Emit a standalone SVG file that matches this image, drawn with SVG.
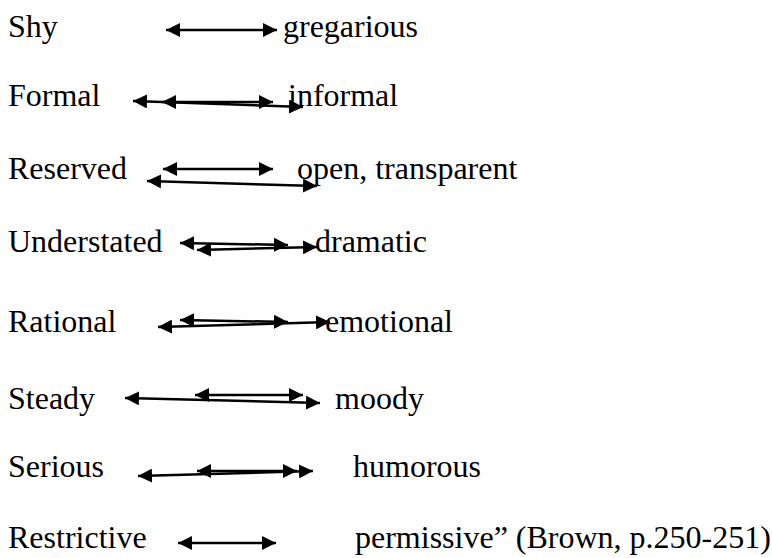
<svg xmlns="http://www.w3.org/2000/svg" width="772" height="558" viewBox="0 0 772 558">
<style>
text{font-family:"Liberation Serif","Times New Roman",serif;font-size:32px;fill:#000}
.a{stroke:#000;stroke-width:2.5;fill:none;marker-start:url(#hs);marker-end:url(#he)}
</style>
<defs>
<marker id="he" viewBox="0 0 14 14" refX="14" refY="7" markerWidth="14" markerHeight="14" markerUnits="userSpaceOnUse" orient="auto"><path d="M0,0L14,7L0,14z" fill="#000"/></marker>
<marker id="hs" viewBox="0 0 14 14" refX="0" refY="7" markerWidth="14" markerHeight="14" markerUnits="userSpaceOnUse" orient="auto"><path d="M14,0L0,7L14,14z" fill="#000"/></marker>
</defs>
<rect width="772" height="558" fill="#fff"/>
<g id="labels">
<text x="8" y="37">Shy</text>
<text x="283" y="37">gregarious</text>
<text x="8" y="106">Formal</text>
<text x="288" y="106">informal</text>
<text x="8" y="179">Reserved</text>
<text x="297" y="179">open, transparent</text>
<text x="8" y="252">Understated</text>
<text x="315" y="252">dramatic</text>
<text x="8" y="332">Rational</text>
<text x="325" y="332">emotional</text>
<text x="8" y="409">Steady</text>
<text x="335" y="409">moody</text>
<text x="8" y="477">Serious</text>
<text x="353" y="477">humorous</text>
<text x="8" y="548">Restrictive</text>
<text x="355" y="548">permissive” (Brown, p.250-251)</text>
</g>
<g id="connectors">
<line class="a" x1="166" y1="30" x2="277" y2="30"/>
<line class="a" x1="133" y1="101" x2="303" y2="107"/>
<line class="a" x1="162" y1="102" x2="273" y2="102"/>
<line class="a" x1="163" y1="169" x2="273" y2="169"/>
<line class="a" x1="147" y1="181" x2="317" y2="186"/>
<line class="a" x1="180" y1="243" x2="288" y2="245"/>
<line class="a" x1="197" y1="250" x2="317" y2="247"/>
<line class="a" x1="180" y1="320" x2="288" y2="322"/>
<line class="a" x1="158" y1="327" x2="330" y2="322"/>
<line class="a" x1="125" y1="398" x2="320" y2="403"/>
<line class="a" x1="195" y1="395" x2="303" y2="395"/>
<line class="a" x1="138" y1="476" x2="313" y2="471"/>
<line class="a" x1="197" y1="471" x2="297" y2="471"/>
<line class="a" x1="178" y1="543" x2="276" y2="543"/>
</g>
</svg>
